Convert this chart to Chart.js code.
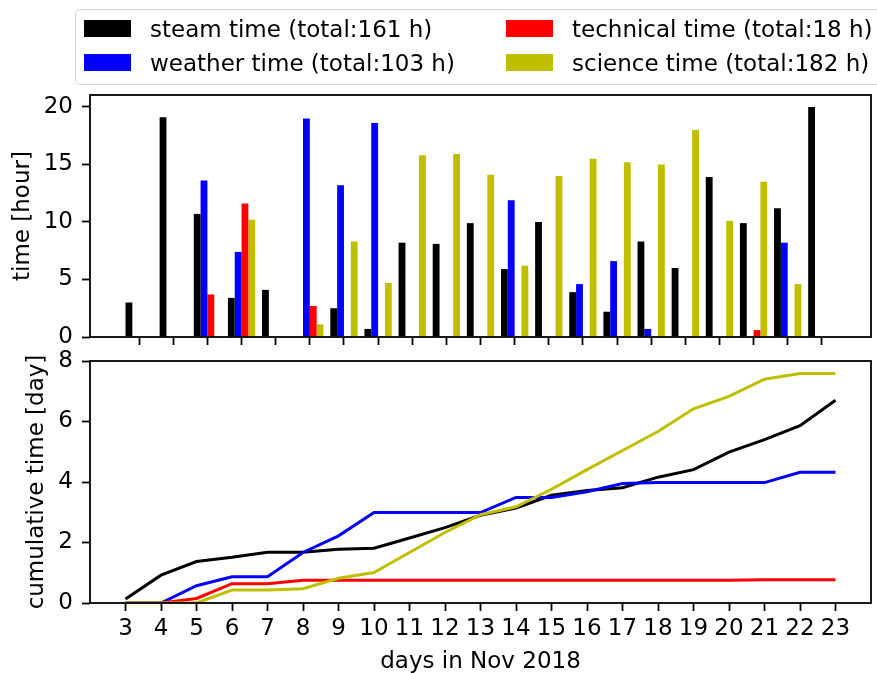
<!DOCTYPE html>
<html>
<head>
<meta charset="utf-8">
<script src="https://cdn.jsdelivr.net/npm/chart.js@4.4.1/dist/chart.umd.min.js"></script>
<style>
  html, body { margin: 0; padding: 0; background: #fff; }
  #wrap { position: relative; width: 877px; height: 673px; overflow: hidden; background: #fff; font-family: 'DejaVu Sans', sans-serif; }
  canvas { position: absolute; left: 0; }
  #c1 { top: 0; }
  #c2 { top: 338px; }
  #legend { position: absolute; left: 75px; top: 9px; width: 840px; height: 74px; border: 1.5px solid #d0d0d0; border-radius: 5px; background: rgba(255,255,255,0.8); z-index: 2; }
  .item { position: absolute; height: 34px; font-size: 23px; line-height: 34px; color: #000; white-space: nowrap; }
  .sw { position: absolute; width: 47px; height: 17px; top: 8.5px; left: 0; }
  .lab { position: absolute; left: 66px; top: 0; }
</style>
</head>
<body>
<div id="wrap">
  <canvas id="c1" width="877" height="360"></canvas>
  <canvas id="c2" width="877" height="335"></canvas>
  <div id="legend"></div>
</div>
<script>
// ---- data ----
const days = [3,4,5,6,7,8,9,10,11,12,13,14,15,16,17,18,19,20,21,22,23];
const steamHours     = [3.0, 19.1, 10.7, 3.4, 4.1, 0, 2.5, 0.7, 8.2, 8.1, 9.9, 5.9, 10.0, 3.9, 2.2, 8.3, 6.0, 13.9, 9.9, 11.2, 20.0];
const weatherHours   = [0, 0, 13.6, 7.4, 0, 19.0, 13.2, 18.6, 0, 0, 0, 11.9, 0, 4.6, 6.6, 0.7, 0, 0, 0, 8.2, 0];
const technicalHours = [0, 0, 3.7, 11.6, 0, 2.7, 0, 0, 0, 0, 0, 0, 0, 0, 0, 0, 0, 0, 0.6, 0, 0];
const scienceHours   = [0, 0, 0, 10.2, 0, 1.1, 8.3, 4.7, 15.8, 15.9, 14.1, 6.2, 14.0, 15.5, 15.2, 15.0, 18.0, 10.1, 13.5, 4.6, 0];

const steamCum     = [0.13, 0.92, 1.37, 1.51, 1.68, 1.68, 1.78, 1.81, 2.15, 2.49, 2.90, 3.14, 3.56, 3.72, 3.81, 4.16, 4.41, 4.99, 5.40, 5.86, 6.70];
const weatherCum   = [0, 0, 0.57, 0.87, 0.87, 1.67, 2.22, 2.99, 2.99, 2.99, 2.99, 3.49, 3.49, 3.68, 3.95, 3.98, 3.98, 3.98, 3.98, 4.32, 4.32];
const technicalCum = [0, 0, 0.15, 0.64, 0.64, 0.75, 0.75, 0.75, 0.75, 0.75, 0.75, 0.75, 0.75, 0.75, 0.75, 0.75, 0.75, 0.75, 0.77, 0.77, 0.77];
const scienceCum   = [0, 0, 0, 0.43, 0.43, 0.47, 0.82, 1.01, 1.67, 2.33, 2.92, 3.18, 3.76, 4.41, 5.04, 5.67, 6.42, 6.83, 7.40, 7.59, 7.59];

const seriesNames = ['steam time (total:161 h)', 'weather time (total:103 h)', 'technical time (total:18 h)', 'science time (total:182 h)'];
const seriesColors = ['#000000', '#0000ff', '#ff0000', '#bfbf00'];
const hourTicks = [0, 5, 10, 15, 20];
const dayTicks = [0, 2, 4, 6, 8];

// ---- legend (HTML, matplotlib-like 2 columns) ----
const legend = document.getElementById('legend');
const legendPos = [[8, 1.5], [8, 35.5], [430, 1.5], [430, 35.5]];
seriesNames.forEach((name, i) => {
  const it = document.createElement('div');
  it.className = 'item';
  it.style.left = legendPos[i][0] + 'px';
  it.style.top = legendPos[i][1] + 'px';
  it.innerHTML = '<div class="sw" style="background:' + seriesColors[i] + '"></div><div class="lab"></div>';
  it.querySelector('.lab').textContent = name;
  legend.appendChild(it);
});

Chart.defaults.font.family = "'DejaVu Sans', sans-serif";
Chart.defaults.font.size = 23;
Chart.defaults.color = '#000';

const frame = {
  id: 'frame',
  afterDraw(chart) {
    const a = chart.chartArea, ctx = chart.ctx;
    ctx.save();
    ctx.strokeStyle = '#000';
    ctx.lineWidth = 1.8;
    ctx.strokeRect(a.left, a.top, a.right - a.left, a.bottom - a.top);
    ctx.restore();
  }
};

const pts = (arr) => days.map((d, i) => ({x: d, y: arr[i]}));
const hourArrays = [steamHours, weatherHours, technicalHours, scienceHours];
const cumArrays = [steamCum, weatherCum, technicalCum, scienceCum];

// ---- top: daily hours (grouped bars) ----
new Chart(document.getElementById('c1'), {
  type: 'bar',
  data: {
    datasets: hourArrays.map((arr, i) => ({
      label: seriesNames[i],
      data: pts(arr),
      backgroundColor: seriesColors[i],
      borderWidth: 0,
      categoryPercentage: 0.8,
      barPercentage: 1.0
    }))
  },
  options: {
    responsive: false,
    animation: false,
    layout: { padding: { top: 95, right: 6, left: 0, bottom: 0 } },
    plugins: { legend: { display: false }, tooltip: { enabled: false } },
    scales: {
      x: {
        type: 'linear',
        min: 1.56, max: 24.44,
        offset: false,
        grid: { offset: false, drawOnChartArea: false, drawTicks: true, tickLength: 8, tickColor: '#000', tickWidth: 1.8 },
        border: { display: false },
        ticks: { display: false, includeBounds: false },
        afterBuildTicks: (s) => { s.ticks = days.map(v => ({value: v})); },
        afterFit: (s) => { s.height = 23; }
      },
      y: {
        min: 0, max: 21.04,
        grid: { drawOnChartArea: false, drawTicks: true, tickLength: 8, tickColor: '#000', tickWidth: 1.8 },
        border: { display: false },
        ticks: { padding: 9, includeBounds: false },
        afterBuildTicks: (s) => { s.ticks = hourTicks.map(v => ({value: v})); },
        afterFit: (s) => { s.width = 90; },
        title: { display: true, text: 'time [hour]', font: { size: 23, lineHeight: 1 }, padding: { top: 12, bottom: 0 } }
      }
    }
  },
  plugins: [frame]
});

// ---- bottom: cumulative days (lines) ----
new Chart(document.getElementById('c2'), {
  type: 'line',
  data: {
    datasets: cumArrays.map((arr, i) => ({
      label: seriesNames[i],
      data: pts(arr),
      borderColor: seriesColors[i],
      backgroundColor: seriesColors[i],
      borderWidth: 3,
      pointRadius: 0,
      tension: 0,
      fill: false,
      order: 3 - i
    }))
  },
  options: {
    responsive: false,
    animation: false,
    layout: { padding: { top: 23, right: 6, left: 0, bottom: 0 } },
    plugins: { legend: { display: false }, tooltip: { enabled: false } },
    scales: {
      x: {
        type: 'linear',
        min: 2, max: 24,
        grid: { drawOnChartArea: false, drawTicks: true, tickLength: 8, tickColor: '#000', tickWidth: 1.8 },
        border: { display: false },
        ticks: { padding: 4, includeBounds: false, maxRotation: 0, autoSkip: false },
        afterBuildTicks: (s) => { s.ticks = days.map(v => ({value: v})); },
        afterFit: (s) => { s.height = 70; },
        title: { display: true, text: 'days in Nov 2018', font: { size: 23, lineHeight: 1 }, padding: { top: 0, bottom: -1 } }
      },
      y: {
        min: 0, max: 8,
        grid: { drawOnChartArea: false, drawTicks: true, tickLength: 8, tickColor: '#000', tickWidth: 1.8 },
        border: { display: false },
        ticks: { padding: 9, includeBounds: false },
        afterBuildTicks: (s) => { s.ticks = dayTicks.map(v => ({value: v})); },
        afterFit: (s) => { s.width = 90; },
        title: { display: true, text: 'cumulative time [day]', font: { size: 23, lineHeight: 1 }, padding: { top: 26, bottom: 0 } }
      }
    }
  },
  plugins: [frame]
});
</script>
</body>
</html>
